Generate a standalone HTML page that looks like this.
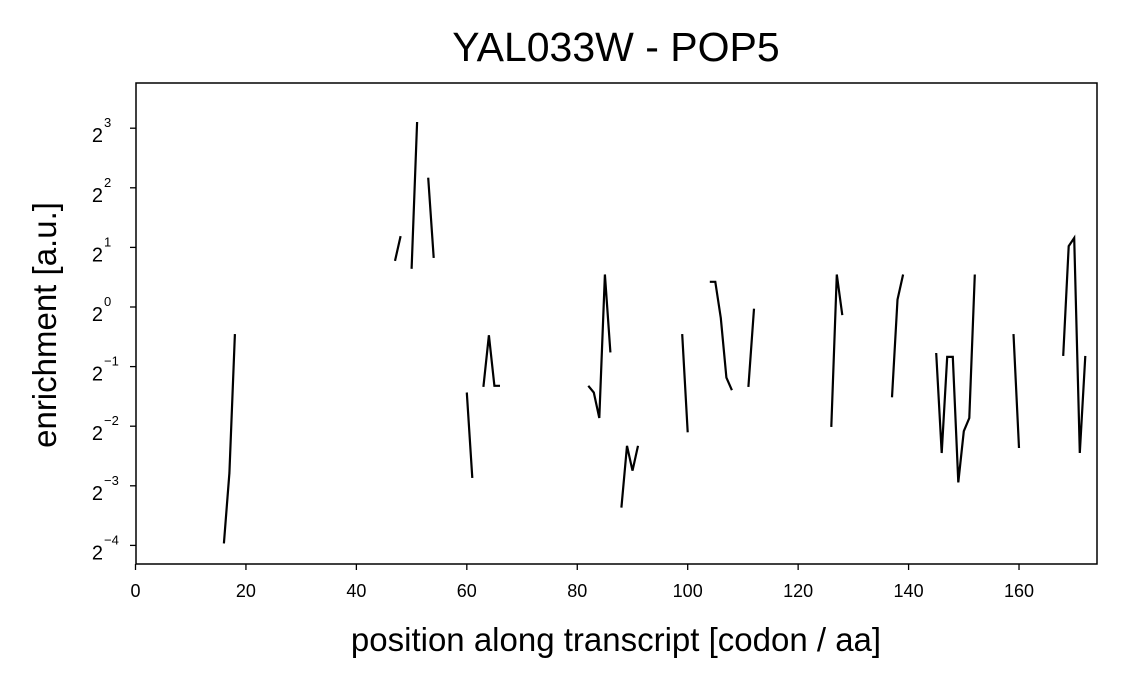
<!DOCTYPE html>
<html><head><meta charset="utf-8">
<style>
html,body{margin:0;padding:0;background:#fff;}
svg{display:block;font-family:"Liberation Sans",Arial,sans-serif;}
</style></head>
<body>
<svg id="chart" width="1128" height="688" viewBox="0 0 1128 688" xmlns="http://www.w3.org/2000/svg">
<rect x="0" y="0" width="1128" height="688" fill="#fff"/>
<text x="616" y="61" font-size="41" text-anchor="middle">YAL033W - POP5</text>
<g id="marks"></g>
<rect x="136" y="83" width="961" height="481" fill="none" stroke="#000" stroke-width="1.5"/>
<g id="xticks"></g>
<g id="yticks"></g>
<text x="616" y="651" font-size="33" text-anchor="middle">position along transcript [codon / aa]</text>
<text transform="translate(56,325) rotate(-90)" font-size="33" text-anchor="middle">enrichment [a.u.]</text>
</svg>
<script>
const positions = [16,17,18,null,47,48,null,50,51,null,53,54,null,60,61,null,63,64,65,66,null,82,83,84,85,86,null,88,89,90,91,null,99,100,null,104,105,106,107,108,null,111,112,null,126,127,128,null,137,138,139,null,145,146,147,148,149,150,151,152,null,159,160,null,168,169,170,171,172];
const enrichment = [0.064,0.145,0.73,null,1.71,2.28,null,1.56,8.6,null,4.5,1.77,null,0.37,0.137,null,0.395,0.72,0.40,0.40,null,0.40,0.37,0.275,1.46,0.59,null,0.097,0.199,0.149,0.199,null,0.73,0.233,null,1.34,1.34,0.88,0.44,0.38,null,0.395,0.98,null,0.248,1.46,0.91,null,0.35,1.09,1.46,null,0.586,0.183,0.56,0.56,0.13,0.236,0.275,1.46,null,0.73,0.194,null,0.566,2.03,2.23,0.183,0.566];
const xTicks = [0,20,40,60,80,100,120,140,160];
const yTickExps = [3,2,1,0,-1,-2,-3,-4];

const NS = "http://www.w3.org/2000/svg";
function xScale(v){ return 135.5 + v * 5.522; }
function yScale(v){ return 307 - Math.log2(v) * 59.6; }

const marks = document.getElementById('marks');
let d = "", start = true;
for (let i = 0; i < positions.length; i++) {
  if (positions[i] === null || enrichment[i] === null) { start = true; continue; }
  d += (start ? "M" : "L") + xScale(positions[i]).toFixed(1) + "," + yScale(enrichment[i]).toFixed(1);
  start = false;
}
const path = document.createElementNS(NS, 'path');
path.setAttribute('d', d);
path.setAttribute('fill', 'none');
path.setAttribute('stroke', '#000');
path.setAttribute('stroke-width', '2.2');


marks.appendChild(path);

const xg = document.getElementById('xticks');
xTicks.forEach(t => {
  const x = xScale(t);
  const l = document.createElementNS(NS, 'line');
  l.setAttribute('x1', x); l.setAttribute('x2', x);
  l.setAttribute('y1', 564); l.setAttribute('y2', 570);
  l.setAttribute('stroke', '#000'); l.setAttribute('stroke-width', '1.3');
  
  
  xg.appendChild(l);
  const tx = document.createElementNS(NS, 'text');
  tx.setAttribute('x', x); tx.setAttribute('y', 597);
  tx.setAttribute('font-size', '18'); tx.setAttribute('text-anchor', 'middle');
  tx.textContent = t;
  
  
  xg.appendChild(tx);
});

const yg = document.getElementById('yticks');
yTickExps.forEach(e => {
  const y = yScale(Math.pow(2, e));
  const l = document.createElementNS(NS, 'line');
  l.setAttribute('x1', 130); l.setAttribute('x2', 136);
  l.setAttribute('y1', y); l.setAttribute('y2', y);
  l.setAttribute('stroke', '#000'); l.setAttribute('stroke-width', '1.3');
  
  
  yg.appendChild(l);
  const tx = document.createElementNS(NS, 'text');
  tx.setAttribute('x', 103); tx.setAttribute('y', y + 14);
  tx.setAttribute('font-size', '20'); tx.setAttribute('text-anchor', 'end');
  tx.textContent = '2';
  
  
  yg.appendChild(tx);
  const sup = document.createElementNS(NS, 'text');
  sup.setAttribute('x', 104); sup.setAttribute('y', y - 1);
  sup.setAttribute('font-size', '13');
  sup.textContent = e < 0 ? '\u2212' + (-e) : String(e);
  
  
  yg.appendChild(sup);
});
</script>
</body></html>
